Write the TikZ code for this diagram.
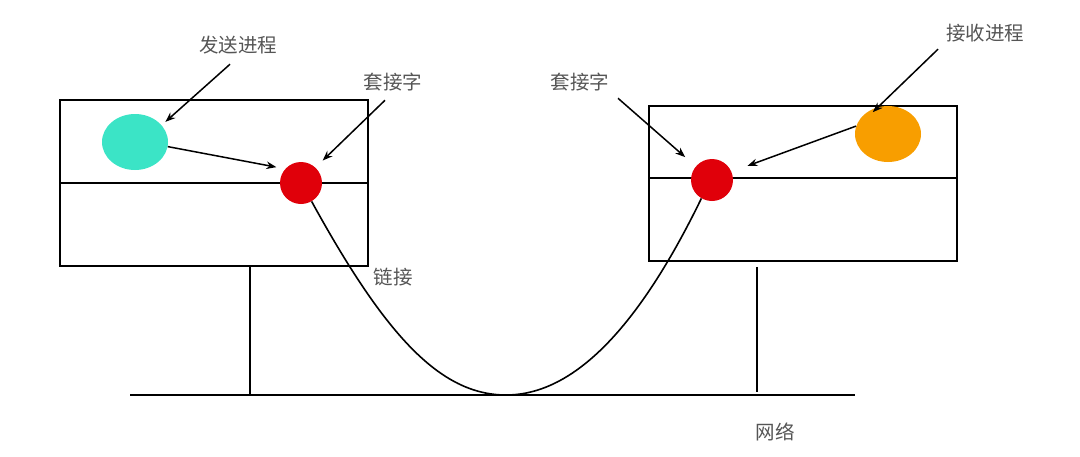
\documentclass[tikz,border=0pt]{standalone}
\usepackage{fontspec}
\newfontfamily\cjk{Noto Sans CJK SC}
\usetikzlibrary{arrows.meta,shapes.geometric}
\definecolor{teal1}{HTML}{3BE4C6}
\definecolor{sockred}{HTML}{E0000A}
\definecolor{orange1}{HTML}{F89E00}
\definecolor{txt}{HTML}{555555}
\tikzset{
  box/.style={draw,line width=1.8pt,inner sep=0pt},
  sock/.style={circle,fill=sockred,inner sep=0pt,minimum size=42pt},
  proc/.style={ellipse,inner sep=0pt,minimum width=66pt,minimum height=56pt},
  lbl/.style={font=\cjk\fontsize{19.5}{22}\selectfont,text=txt,inner sep=1pt},
  arr/.style={-{Stealth[length=10pt,width=7.5pt]},line width=1.5pt},
  ln/.style={line width=1.8pt}
}
\begin{document}
\begin{tikzpicture}[x=1pt,y=-1pt]
\path[use as bounding box] (0,0) rectangle (1080,456);
% boxes
\node[box,minimum width=308pt,minimum height=166pt] (lbox) at (214,183) {};
\node[box,minimum width=308pt,minimum height=155pt] (rbox) at (803,183.5) {};
\draw[ln] (lbox.west |- 0,183) -- (lbox.east |- 0,183);
\draw[ln] (rbox.west |- 0,178) -- (rbox.east |- 0,178);
% network
\coordinate (netl) at (130,395);
\coordinate (netr) at (855,395);
\coordinate (bot) at (506,395);
\coordinate (rfoot) at (757,392);
\draw[ln] (netl) -- (netr);
\draw[ln] (lbox.south -| 250,0) -- (netl -| 250,0);
\draw[ln] (rbox.south -| rfoot) ++(0,5) -- (rfoot);
% processes and sockets
\node[proc,fill=teal1] (send) at (135,142) {};
\node[proc,fill=orange1] (recv) at (888,134) {};
\node[sock] (lsock) at (301,183) {};
\node[sock] (rsock) at (712,180) {};
% link curve
\draw[line width=1.6pt] (lsock.-60) .. controls (385,335) and (440,395) .. (bot)
  .. controls (570,395) and (635,335) .. (rsock.-120);
% labels
\node[lbl] (lsend) at (238,45) {发送进程};
\node[lbl] (lsk1) at (393,82) {套接字};
\node[lbl] (lsk2) at (580,82) {套接字};
\node[lbl] (lrecv) at (985,33) {接收进程};
\node[lbl] (llink) at (393,277) {链接};
\node[lbl] (lnet) at (775,432) {网络};
% arrows
\draw[arr] ([xshift=-8pt,yshift=-9pt]lsend.south) -- ([xshift=4pt,yshift=3pt]send.33);
\draw[arr,shorten >=9pt] (send.-8) -- (lsock.138);
\draw[arr,shorten >=10pt] ([xshift=-8pt,yshift=-8pt]lsk1.south) -- (lsock.47);
\draw[arr,shorten >=14pt] ([xshift=38pt,yshift=-6pt]lsk2.south) -- (rsock.140);
\draw[arr,shorten >=17pt] (recv.166) -- (rsock.23);
\draw[arr] ([xshift=-47pt,yshift=-6pt]lrecv.south) -- ([xshift=-2pt,yshift=-4pt]recv.117);
\end{tikzpicture}
\end{document}
